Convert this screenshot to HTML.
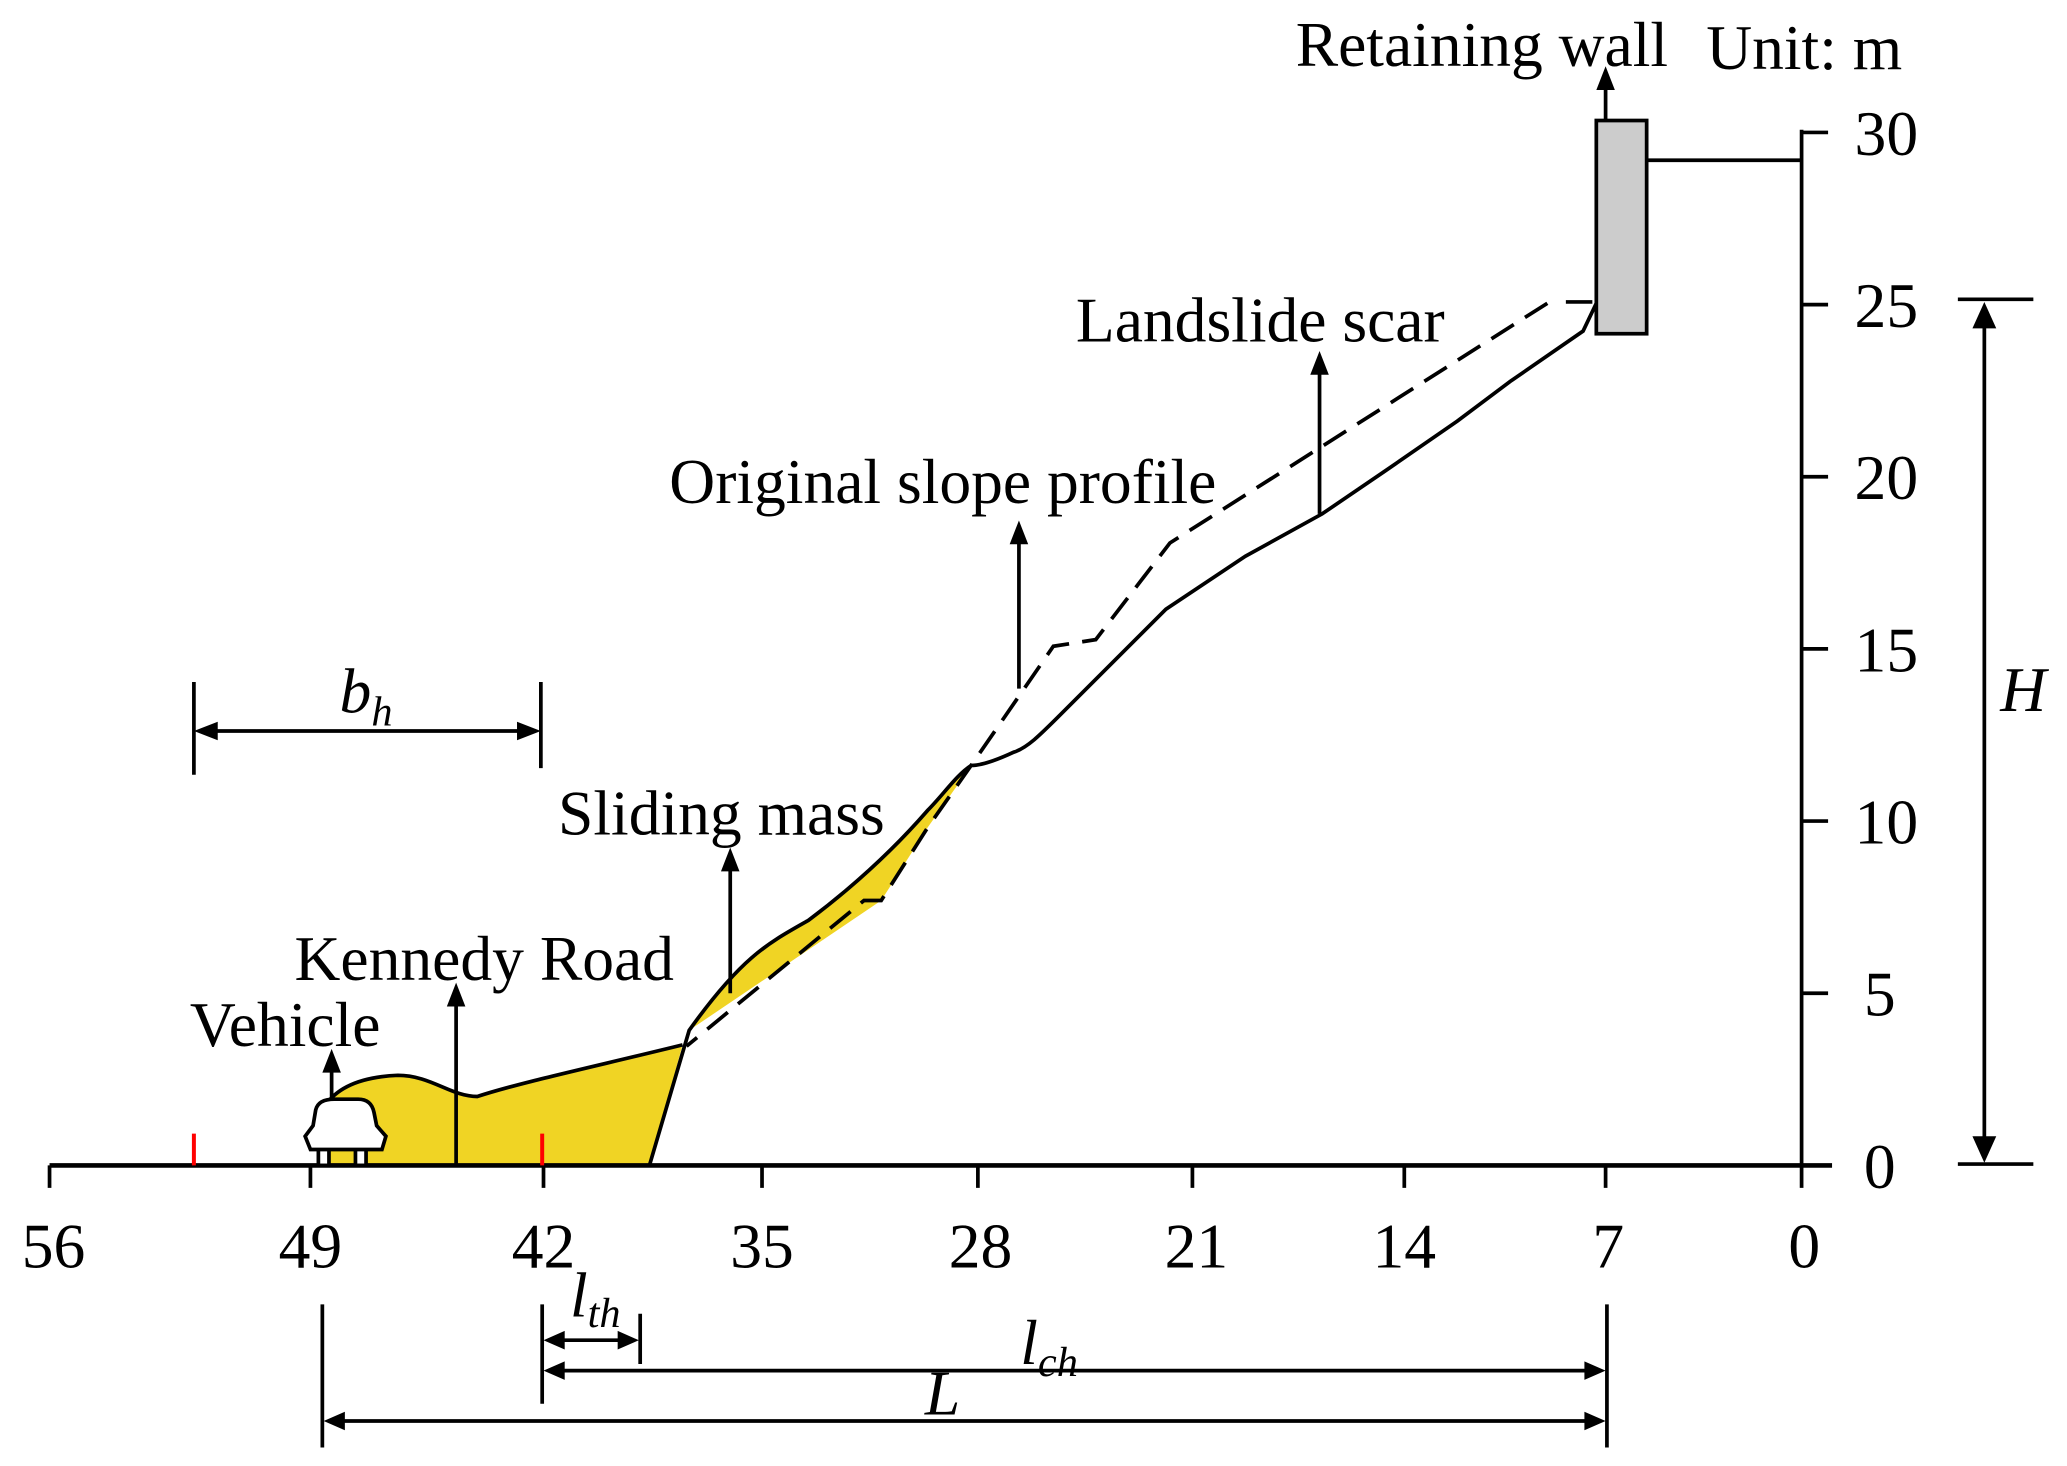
<!DOCTYPE html>
<html><head><meta charset="utf-8"><style>
html,body{margin:0;padding:0;background:#fff;}
svg{display:block;}
text{font-family:"Liberation Serif",serif;fill:#000;}
</style></head><body>
<svg width="2067" height="1466" viewBox="0 0 1560 1107" xmlns="http://www.w3.org/2000/svg">
<g fill="#f0d424" stroke="none">
<path d="M245,880 L245,835 C255,820 275,813 300,812 C325,812 340,828 360,828 C390,818 450,805 515,789 L490,880 Z"/>
<path d="M733,578 C722,585 712,600 700,612 C680,635 650,665 610,695 C580,712 560,722 520,778 L665,680 L700,625 Z"/>
</g>
<g fill="none" stroke="#000" stroke-width="2.8">
<line x1="37" y1="880" x2="1383" y2="880" stroke-width="3.5"/>
<path d="M37,880v17 M234,880v17 M410,880v17 M575,880v17 M738,880v17 M900,880v17 M1060,880v17 M1212,880v17"/>
<line x1="1360" y1="98" x2="1360" y2="897"/>
<path d="M1360,100h20 M1360,230h20 M1360,360h20 M1360,490h20 M1360,620h20 M1360,750h20"/>
<rect x="1205" y="91" width="38" height="161" fill="#cccccc"/>
<line x1="1243" y1="121" x2="1360" y2="121"/>
<path d="M1478,226h57 M1478,879h57 M1498,240v625"/>
<path d="M1202,228 L1172,228 M1168,229 L883,410 L827,483 L795,488 L735,575 L700,625 L665,680 L652,680 L518,790" stroke-dasharray="20,10"/>
<path d="M1205,229 L1195,250 L1140,288 L1100,318 L1045,356 L998,388 L940,420 L880,460 C860,480 840,500 800,540 C785,555 775,565 765,568 C750,575 740,578 733,578 C722,585 712,600 700,612 C680,635 650,665 610,695 C580,712 560,722 520,778 L490,880"/>
<path d="M245,835 C255,820 275,813 300,812 C325,812 340,828 360,828 C390,818 450,805 515,789"/>
<path d="M250,830V805 M344,880V755 M551,750V652 M769,520V405 M996,388V278 M1212,91V62"/>
<path d="M146,515v70 M408,515v65 M156,552h242"/>
<path d="M243,985v108 M409,985v75 M483,992v38 M1213,985v108 M420,1012h52 M420,1035h782 M254,1073h948"/>
</g>
<g fill="#000">
<path d="M1498,228l-9,20h18z M1498,878l-9,-20h18z"/>
<path d="M250,792l-7,18h14z M344,742l-7,18h14z M551,640l-7,18h14z M769,393l-7,18h14z M996,265l-7,18h14z M1212,50l-7,18h14z"/>
<path d="M146,552l18,-7v14z M408,552l-18,-7v14z"/>
<path d="M410,1012l16,-7v14z M482,1012l-16,-7v14z M410,1035l16,-7v14z M1212,1035l-16,-7v14z M244,1073l16,-7v14z M1212,1073l-16,-7v14z"/>
</g>
<path d="M146,856v24 M409,856v24" stroke="#ff0000" stroke-width="3"/>
<g fill="#fff" stroke="#000" stroke-width="2.8">
<rect x="240" y="862" width="8" height="18"/>
<rect x="268" y="862" width="8" height="18"/>
<path d="M234,868 L230,858 L236,850 L238,838 Q240,830 252,830 L270,830 Q280,830 282,840 L284,850 L291,858 L288,868 Z"/>
</g>
<g font-size="48">
<text x="40" y="957" text-anchor="middle">56</text>
<text x="234" y="957" text-anchor="middle">49</text>
<text x="410" y="957" text-anchor="middle">42</text>
<text x="575" y="957" text-anchor="middle">35</text>
<text x="740" y="957" text-anchor="middle">28</text>
<text x="903" y="957" text-anchor="middle">21</text>
<text x="1060" y="957" text-anchor="middle">14</text>
<text x="1214" y="957" text-anchor="middle">7</text>
<text x="1362" y="957" text-anchor="middle">0</text>
<text x="1400" y="117">30</text>
<text x="1400" y="247">25</text>
<text x="1400" y="377">20</text>
<text x="1400" y="507">15</text>
<text x="1400" y="637">10</text>
<text x="1407" y="767">5</text>
<text x="1407" y="897">0</text>
<text x="978" y="50">Retaining wall</text>
<text x="1288" y="52">Unit: m</text>
<text x="812" y="258">Landslide scar</text>
<text x="505" y="380">Original slope profile</text>
<text x="421" y="630">Sliding mass</text>
<text x="222" y="740">Kennedy Road</text>
<text x="143" y="790">Vehicle</text>
<text x="1510" y="537" font-style="italic">H</text>
<text x="256" y="538" font-style="italic">b<tspan font-size="32" dy="10">h</tspan></text>
<text x="430" y="994" font-style="italic">l<tspan font-size="32" dy="8">th</tspan></text>
<text x="770" y="1030" font-style="italic">l<tspan font-size="32" dy="9">ch</tspan></text>
<text x="698" y="1068" font-style="italic">L</text>
</g>
</svg>
</body></html>
